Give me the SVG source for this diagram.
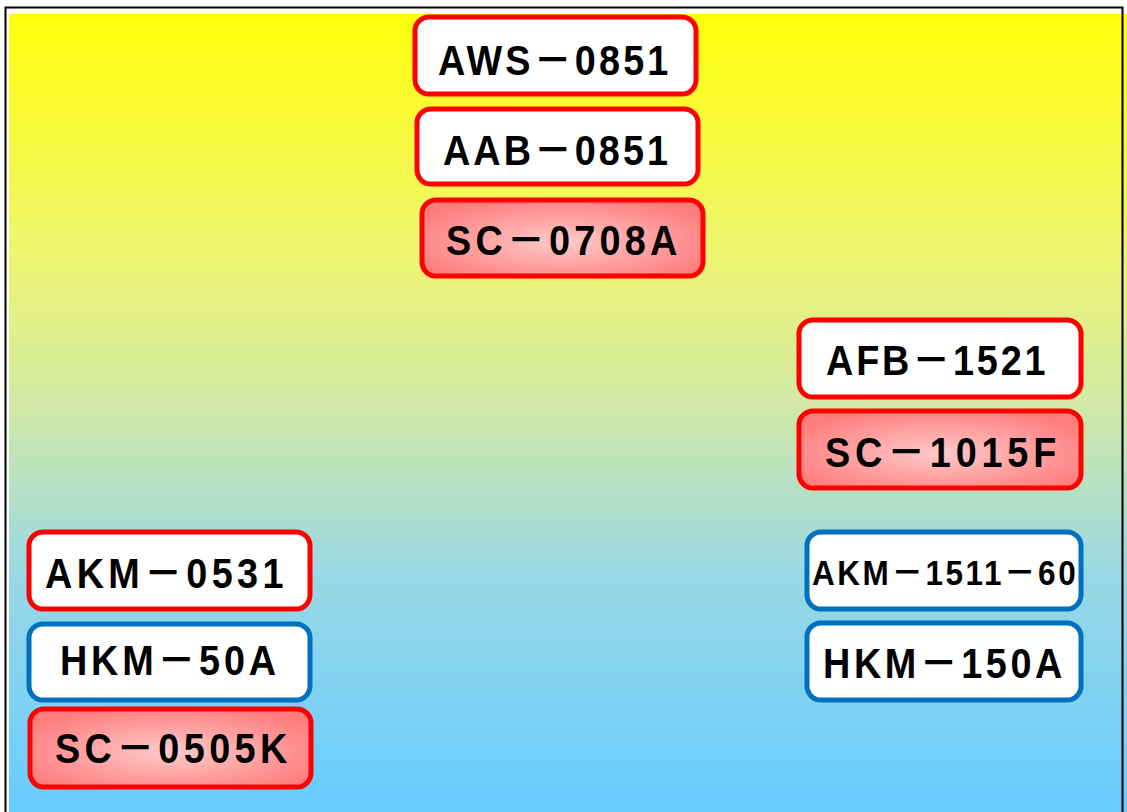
<svg xmlns="http://www.w3.org/2000/svg" width="1127" height="812" viewBox="0 0 1127 812">
<defs>
<linearGradient id="bg" x1="0" y1="0" x2="0" y2="1">
<stop offset="0" stop-color="#FFFF0A"/>
<stop offset="0.3" stop-color="#EEF570"/>
<stop offset="0.5" stop-color="#CFE8A8"/>
<stop offset="0.7" stop-color="#9AD8E4"/>
<stop offset="1" stop-color="#66CCFF"/>
</linearGradient>
<radialGradient id="pink" cx="0.5" cy="0.55" r="0.6">
<stop offset="0" stop-color="#FFCACA"/>
<stop offset="1" stop-color="#FF7C7C"/>
</radialGradient>
<style>
.box{stroke-width:5}
.w{fill:#FFFFFF}
.p{fill:url(#pink)}
.r{stroke:#FF0000}
.b{stroke:#0070C0}
.t{font-family:"Liberation Sans","Noto Sans CJK JP",Arial,sans-serif;font-weight:bold;fill:#000000;font-size:42px}
.s{font-size:35px}
</style>
</defs>
<rect x="0" y="0" width="1127" height="812" fill="#FFFFFF"/>
<rect x="9" y="14" width="1118" height="798" fill="url(#bg)"/>
<path d="M5.5 812 V7.5 H1122.5 V812" fill="none" stroke="#000000" stroke-width="2"/>
<g id="connectors"></g>
<g id="n1"><rect class="box w r" x="415" y="17" width="281" height="77" rx="14"/><text class="t" transform="translate(438 75) scale(0.9 1)" textLength="256" lengthAdjust="spacing">AWS－0851</text></g>
<g id="n2"><rect class="box w r" x="417" y="109" width="281" height="75" rx="14"/><text class="t" transform="translate(443 165) scale(0.9 1)" textLength="250" lengthAdjust="spacing">AAB－0851</text></g>
<g id="n3"><rect class="box p r" x="422" y="200" width="281" height="76" rx="14"/><text class="t" transform="translate(446 255) scale(0.9 1)" textLength="257" lengthAdjust="spacing">SC－0708A</text></g>
<g id="n4"><rect class="box w r" x="799" y="320" width="282" height="77" rx="14"/><text class="t" transform="translate(826 375) scale(0.9 1)" textLength="244" lengthAdjust="spacing">AFB－1521</text></g>
<g id="n5"><rect class="box p r" x="799" y="411" width="282" height="77" rx="14"/><text class="t" transform="translate(825 467) scale(0.9 1)" textLength="257" lengthAdjust="spacing">SC－1015F</text></g>
<g id="n6"><rect class="box w r" x="29" y="532" width="281" height="77" rx="14"/><text class="t" transform="translate(45 588) scale(0.9 1)" textLength="265" lengthAdjust="spacing">AKM－0531</text></g>
<g id="n7"><rect class="box w b" x="29" y="624" width="281" height="76" rx="14"/><text class="t" transform="translate(60 675) scale(0.9 1)" textLength="240" lengthAdjust="spacing">HKM－50A</text></g>
<g id="n8"><rect class="box p r" x="30" y="709" width="281" height="78" rx="14"/><text class="t" transform="translate(55 763) scale(0.9 1)" textLength="258" lengthAdjust="spacing">SC－0505K</text></g>
<g id="n9"><rect class="box w b" x="807" y="532" width="274" height="77" rx="14"/><text class="t s" transform="translate(812 585) scale(0.9 1)" textLength="293" lengthAdjust="spacing">AKM－1511－60</text></g>
<g id="n10"><rect class="box w b" x="807" y="623" width="274" height="77" rx="14"/><text class="t" transform="translate(823 678) scale(0.9 1)" textLength="266" lengthAdjust="spacing">HKM－150A</text></g>
</svg>
